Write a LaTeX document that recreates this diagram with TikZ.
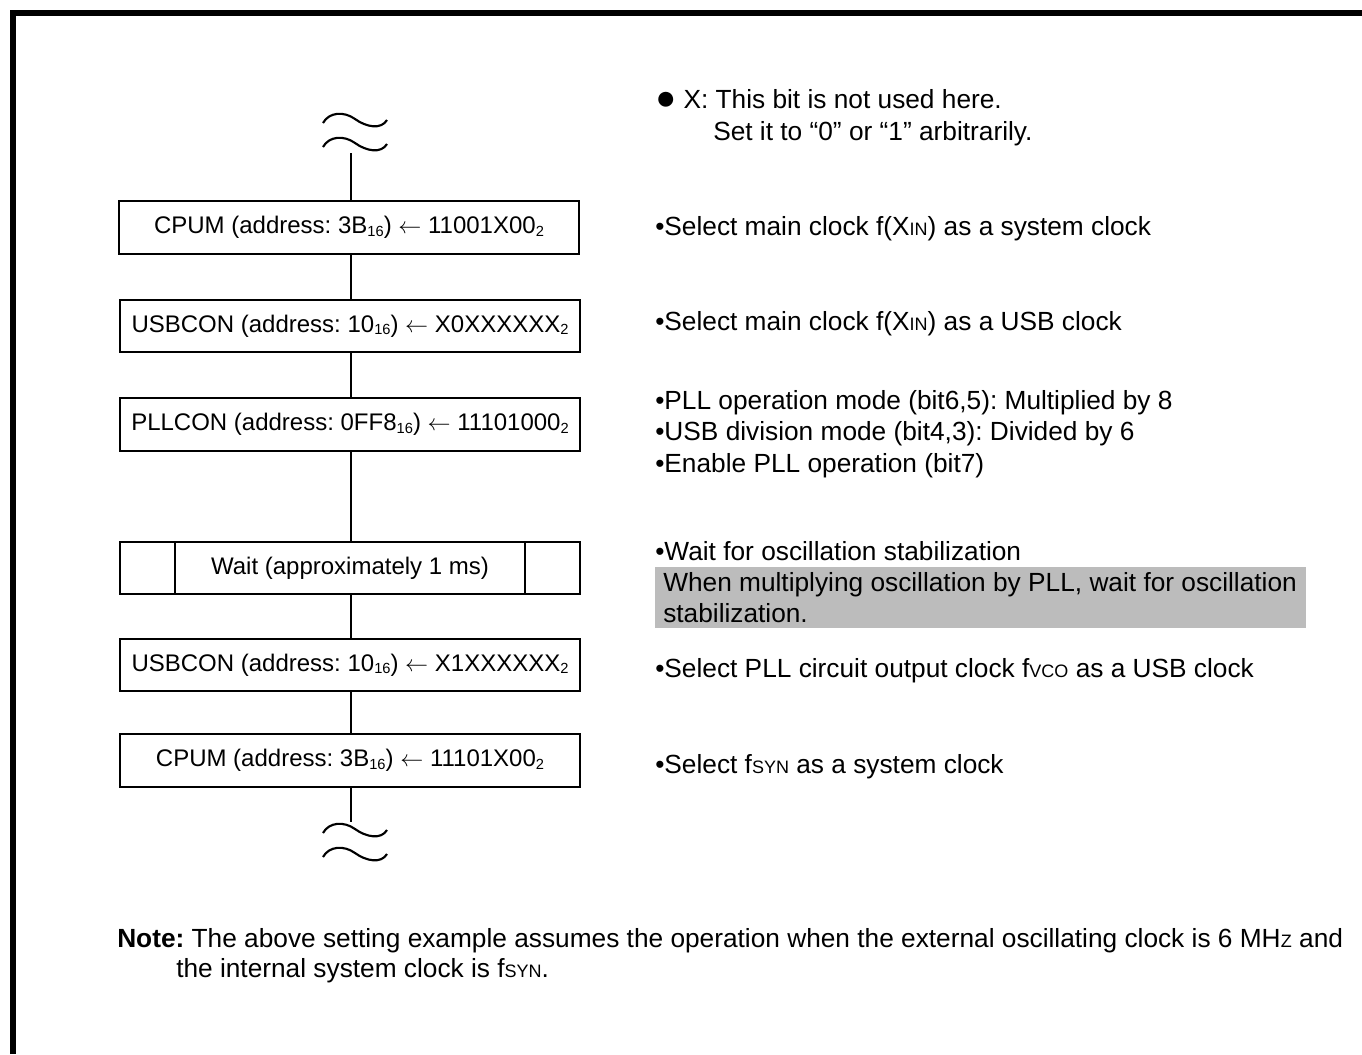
\documentclass[tikz,border=0pt]{standalone}
\usepackage{fontspec}
\setmainfont{Liberation Sans}
\frenchspacing
\newcommand{\ssb}[1]{\raisebox{-0.1em}{\fontsize{11}{11}\selectfont #1}}
\newcommand{\smc}[1]{{\fontsize{13.5}{13.5}\selectfont #1}}
\newcommand{\bigdot}{\raisebox{-1.2pt}{\fontsize{26}{26}\selectfont ●}}
\definecolor{hlgray}{RGB}{188,188,188}
\begin{document}
\begin{tikzpicture}[x=0.75pt,y=-0.75pt,
  every node/.style={font=\fontsize{19.7}{24}\selectfont, inner sep=0pt},
  box/.style={draw, line width=1.5pt, minimum width=345pt, minimum height=39.5pt, font=\fontsize{18}{22}\selectfont},
  conn/.style={line width=1.5pt},
  frame/.style={line width=4.2pt},
  wave/.style={line width=1.6pt},
  txt/.style={anchor=base west}]
\useasboundingbox (0,0) rectangle (1362,1054);
\draw[frame] (13,1054) -- (13,13) -- (1362,13);

% breaks
\foreach \yy in {113,137,823,847}{
  \draw[wave, shift={(0,\yy)}] (323,10) .. controls (329,-1) and (344,-2) .. (355,6) .. controls (366,14) and (381,17) .. (387,7);
}

% boxes
\node[box] (b1) at (349,227.5) {CPUM (address: 3B\ssb{16}) $\leftarrow$ 11001X00\ssb{2}};
\node[box] (b2) at (350,326) {USBCON (address: 10\ssb{16}) $\leftarrow$ X0XXXXXX\ssb{2}};
\node[box] (b3) at (350,424.5) {PLLCON (address: 0FF8\ssb{16}) $\leftarrow$ 11101000\ssb{2}};
\node[box] (b4) at (350,568) {Wait (approximately 1 ms)};
\draw[conn] (175,542) -- (175,594);
\draw[conn] (525,542) -- (525,594);
\node[box] (b5) at (350,665) {USBCON (address: 10\ssb{16}) $\leftarrow$ X1XXXXXX\ssb{2}};
\node[box] (b6) at (350,760.5) {CPUM (address: 3B\ssb{16}) $\leftarrow$ 11101X00\ssb{2}};

\coordinate (top) at (351,153);
\coordinate (bot) at (351,822);
\draw[conn] (top) -- (top |- b1.north);
\draw[conn] (b1.south -| top) -- (b2.north -| top);
\draw[conn] (b2.south -| top) -- (b3.north -| top);
\draw[conn] (b3.south -| top) -- (b4.north -| top);
\draw[conn] (b4.south -| top) -- (b5.north -| top);
\draw[conn] (b5.south -| top) -- (b6.north -| top);
\draw[conn] (b6.south -| bot) -- (bot);

% right-hand notes
\node[txt] (n1) at (655,108) {\bigdot\ X: This bit is not used here.};
\node[txt] (n2) at (713,140) {Set it to “0” or “1” arbitrarily.};
\node[txt] (r1) at (655,235) {•Select main clock f(X\smc{IN}) as a system clock};
\node[txt] (r2) at (655,330) {•Select main clock f(X\smc{IN}) as a USB clock};
\node[txt] (r3) at (655,409) {•PLL operation mode (bit6,5): Multiplied by 8};
\node[txt] (r4) at (655,440) {•USB division mode (bit4,3): Divided by 6};
\node[txt] (r5) at (655,472) {•Enable PLL operation (bit7)};
\node[txt] (r6) at (655,560) {•Wait for oscillation stabilization};
\node[fill=hlgray, anchor=north west, minimum width=488pt, minimum height=45.75pt] (hl) at (655,567) {};
\node[txt] (r7) at (663,591) {When multiplying oscillation by PLL, wait for oscillation};
\node[txt] (r8) at (663,622) {stabilization.};
\node[txt] (r9) at (655,677) {•Select PLL circuit output clock f\smc{VCO} as a USB clock};
\node[txt] (r10) at (655,773) {•Select f\smc{SYN} as a system clock};

% note
\node[txt] (note1) at (117,947) {\textbf{Note:} The above setting example assumes the operation when the external oscillating clock is 6 MH\smc{Z} and};
\node[txt] (note2) at (176,977) {the internal system clock is f\smc{SYN}.};
\end{tikzpicture}
\end{document}
